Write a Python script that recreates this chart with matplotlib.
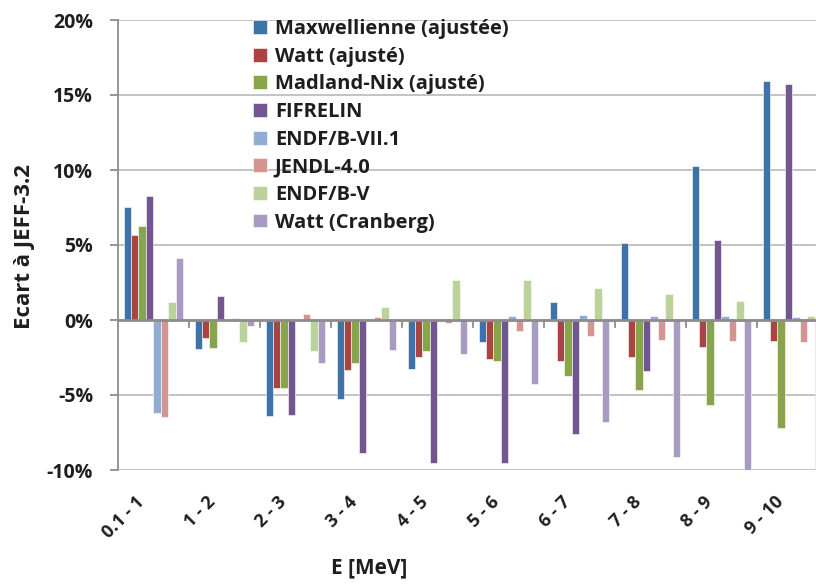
import matplotlib
matplotlib.use('Agg')
import matplotlib.pyplot as plt
import matplotlib.transforms as mtransforms
import numpy as np

plt.rcParams['font.family'] = ['Open Sans', 'DejaVu Sans']
plt.rcParams['font.weight'] = 'bold'

categories = ['0.1 - 1', '1 - 2', '2 - 3', '3 - 4', '4 - 5', '5 - 6', '6 - 7', '7 - 8', '8 - 9', '9 - 10']

maxwell   = [7.55, -1.93, -6.42, -5.25, -3.29, -1.47, 1.18, 5.11, 10.29, 15.95]
watt      = [5.69, -1.20, -4.56, -3.33, -2.47, -2.62, -2.73, -2.45, -1.78, -1.38]
madland   = [6.24, -1.89, -4.51, -2.84, -2.07, -2.71, -3.76, -4.67, -5.67, -7.23]
fifrelin  = [8.29, 1.62, -6.33, -8.84, -9.56, -9.51, -7.58, -3.38, 5.33, 15.73]
endf71    = [-6.20, 0.0, 0.0, 0.0, 0.0, 0.24, 0.35, 0.29, 0.27, 0.22]
jendl     = [-6.45, 0.15, 0.38, 0.22, -0.18, -0.71, -1.09, -1.31, -1.40, -1.45]
endf5     = [1.22, -1.49, -2.05, 0.87, 2.64, 2.69, 2.13, 1.73, 1.29, 0.27]
cranberg  = [4.13, -0.38, -2.87, -2.00, -2.29, -4.29, -6.80, -9.16, -10.10, -10.60]

series = [maxwell, watt, madland, fifrelin, endf71, jendl, endf5, cranberg]
names = ['Maxwellienne (ajustée)', 'Watt (ajusté)', 'Madland-Nix (ajusté)', 'FIFRELIN',
         'ENDF/B-VII.1', 'JENDL-4.0', 'ENDF/B-V', 'Watt (Cranberg)']
colors = ['#3E72A8', '#A94442', '#88A54B', '#71568F', '#93ACD3', '#D49592', '#BBD29A', '#A89BC2']

fig = plt.figure(figsize=(8.16, 5.85), dpi=100)
ax = fig.add_axes([118/816, 1-470/585, 710/816, 450/585])

x = np.arange(len(categories))
w = 0.1056
start = -0.4225
for i, (vals, nm, c) in enumerate(zip(series, names, colors)):
    ax.bar(x + start + (i + 0.5)*w, vals, width=w, color=c, label=nm,
           edgecolor='white', linewidth=0.4, zorder=3)

ax.set_xlim(-0.5, len(categories) - 0.5)
ax.set_ylim(-10, 20)
ax.set_yticks(np.arange(-10, 21, 5))
ax.set_yticklabels(['%d%%' % v for v in np.arange(-10, 21, 5)], fontsize=14, fontweight='bold')
ax.yaxis.grid(True, color='#BEBEBE', lw=1.3, zorder=0)
ax.axhline(0, color='#8C8C8C', lw=2, zorder=4)

for s in ['top', 'right', 'bottom']:
    ax.spines[s].set_visible(False)
ax.spines['left'].set_color('#8C8C8C')
ax.spines['left'].set_linewidth(1.3)
ax.tick_params(axis='y', length=6, width=1.3, color='#8C8C8C', pad=12, labelcolor='#1E1E1E')

# category labels
ax.set_xticks(x)
ax.set_xticklabels(categories, rotation=45, ha='right', va='center',
                   rotation_mode='anchor', fontsize=13, fontweight='bold', color='#1E1E1E')
ax.tick_params(axis='x', length=0, pad=21)
off = mtransforms.ScaledTranslation(-12/100, 0, fig.dpi_scale_trans)
for lab in ax.get_xticklabels():
    lab.set_transform(lab.get_transform() + off)

# small ticks between categories, hanging under the zero line
for b in np.arange(0.5, len(categories) - 0.5, 1):
    ax.plot([b, b], [0, -0.47], color='#8C8C8C', lw=1.3, zorder=4, clip_on=False)

fig.text(25/816, 1-246/585, 'Ecart à JEFF-3.2', rotation=90, ha='center', va='center',
         fontsize=16, fontweight='bold', color='#1E1E1E')
fig.text(369/816, 1-568/585, 'E [MeV]', ha='center', va='center',
         fontsize=15, fontweight='bold', color='#1E1E1E')

leg = ax.legend(loc='upper left', bbox_to_anchor=(243/816, 1-9/585), bbox_transform=fig.transFigure,
                frameon=False, fontsize=14.5, handlelength=0.68, handleheight=0.68,
                handletextpad=0.4, labelspacing=0.38, borderpad=0)
for t in leg.get_texts():
    t.set_color('#1E1E1E')
    t.set_fontweight('bold')

fig.savefig('out.png', dpi=100)
